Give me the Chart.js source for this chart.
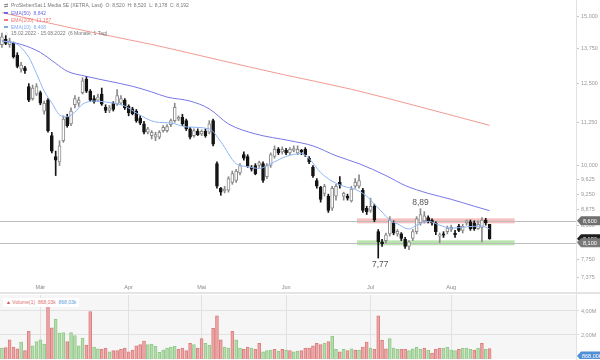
<!DOCTYPE html>
<html lang="de">
<head>
<meta charset="UTF-8">
<title>ProSiebenSat.1 Media SE - Chart</title>
<script src="https://cdn.jsdelivr.net/npm/chart.js@4.4.1/dist/chart.umd.min.js"></script>
<style>
  html, body { margin: 0; padding: 0; background: #fff; }
  body { width: 600px; height: 360px; position: relative; overflow: hidden;
         font-family: "Liberation Sans", Arial, sans-serif; }
  canvas { position: absolute; left: 0; }
  #priceChart { top: 0; }
  #volChart { top: 295px; }
  .sep { position: absolute; left: 0; top: 292px; width: 600px; height: 2px; background: #e4e4e4; }
  .vline { position: absolute; left: 576px; top: 0; width: 1px; height: 360px; background: #e2e2e2; }
  .lg { position: absolute; left: 4px; font-size: 5px; line-height: 7px; color: #777; white-space: nowrap; }
  .lg .dash { display: inline-block; width: 4px; height: 1.5px; vertical-align: middle; margin-right: 3px; }
  .lg .ic { display: inline-block; width: 5px; margin-right: 2px; color: #888; }
  .vlg { position: absolute; left: 3px; top: 298px; font-size: 5px; line-height: 9px; padding: 0 3px;
         background: #fff; color: #e07070; white-space: nowrap; }
</style>
</head>
<body>
<canvas id="priceChart" width="600" height="293"></canvas>
<div class="sep"></div>
<canvas id="volChart" width="600" height="64"></canvas>
<div class="vline"></div>

<div class="lg" style="top:1.5px"><span class="ic">&#8644;</span>ProSiebenSat.1 Media SE (XETRA, Last)&nbsp; O: 8,520&nbsp; H: 8,520&nbsp; L: 8,178&nbsp; C: 8,192</div>
<div class="lg" style="top:9.5px;color:#6b6be3"><span class="dash" style="background:#6b6be3"></span>EMA(50)&nbsp; 8,842</div>
<div class="lg" style="top:16.5px;color:#ee7b74"><span class="dash" style="background:#ee7b74"></span>EMA(200)&nbsp; 11,157</div>
<div class="lg" style="top:23.5px;color:#7eaaf0"><span class="dash" style="background:#7eaaf0"></span>EMA(10)&nbsp; 8,408</div>
<div class="lg" style="top:29.5px"><span class="ic">&#9788;</span>15.02.2022 - 15.08.2022&nbsp; (6 Monate, 1 Tag)</div>
<div class="vlg"><span style="color:#d65050">&#9650;</span> Volume(1)&nbsp; 868,03k&nbsp; <span style="color:#5b9bd8">868,03k</span></div>

<script>
// ---- data (EUR, XETRA daily, 15.02.2022 - 15.08.2022) ----
const opens = [
  13.90,14.10,13.90,13.95,13.50,13.00,13.05,12.40,12.00,12.15,
  12.20,11.60,11.95,10.85,10.25,10.10,10.70,11.40,11.20,11.80,
  11.85,12.20,12.65,12.25,12.00,11.95,12.15,11.72,11.62,11.85,
  11.82,11.85,11.95,11.75,11.67,11.60,11.38,11.20,10.95,10.85,
  10.80,10.80,11.00,11.00,11.18,11.30,11.35,11.40,11.30,11.05,
  10.85,10.98,10.90,10.98,10.95,11.30,10.05,9.40,9.33,9.35,
  9.55,9.60,9.80,10.30,10.25,9.95,10.00,10.00,10.05,9.70,
  10.00,10.25,10.45,10.38,10.42,10.35,10.42,10.35,10.42,10.45,
  10.20,9.95,9.60,9.42,9.27,9.20,8.90,9.20,9.55,9.20,
  9.20,9.08,9.45,9.45,9.35,8.90,8.85,8.95,8.35,8.12,
  8.15,8.30,8.55,8.30,8.30,8.18,8.02,8.20,8.35,8.55,
  8.60,8.68,8.62,8.55,8.25,8.30,8.35,8.40,8.32,8.48,
  8.38,8.55,8.58,8.55,8.42,8.45,8.62,8.52
];
const highs = [
  14.35,14.25,14.15,14.00,13.60,13.25,13.10,12.50,12.45,12.50,
  12.25,11.92,12.00,10.95,10.40,10.70,11.45,11.50,11.70,12.10,
  12.05,12.70,12.75,12.30,12.10,12.15,12.35,11.80,11.78,11.90,
  12.30,12.10,12.00,11.80,11.72,11.65,11.45,11.28,11.10,11.00,
  10.95,11.00,11.15,11.18,11.35,11.85,11.45,11.50,11.35,11.10,
  11.05,11.05,11.02,11.05,11.30,11.35,10.10,9.42,9.45,9.70,
  9.85,9.90,10.05,10.38,10.30,10.00,10.05,10.12,10.10,10.05,
  10.35,10.55,10.50,10.52,10.48,10.50,10.55,10.55,10.45,10.50,
  10.25,10.00,9.65,9.45,9.50,9.25,9.45,9.50,9.70,9.30,
  9.25,9.45,9.65,9.75,9.40,8.95,9.15,9.00,8.40,8.18,
  8.32,8.70,8.60,8.40,8.33,8.22,8.15,8.40,8.70,8.89,
  8.82,8.72,8.65,8.58,8.32,8.35,8.48,8.50,8.38,8.52,
  8.52,8.62,8.62,8.60,8.60,8.68,8.66,8.52
];
const lows = [
  13.80,13.90,13.80,13.40,13.05,12.90,12.85,11.90,11.95,12.10,
  11.80,11.50,10.95,10.35,9.73,10.00,10.65,11.10,11.15,11.70,
  11.75,12.15,12.20,11.90,11.85,11.90,11.78,11.55,11.55,11.60,
  11.78,11.80,11.65,11.45,11.48,11.25,11.18,10.90,10.90,10.75,
  10.70,10.75,10.95,10.95,11.12,11.25,11.30,11.15,11.00,10.75,
  10.80,10.85,10.85,10.80,10.90,10.55,9.40,9.22,9.28,9.30,
  9.50,9.55,9.75,10.15,9.95,9.85,9.75,9.95,9.55,9.65,
  9.95,10.20,10.30,10.32,10.30,10.30,10.38,10.30,10.30,10.25,
  10.05,9.68,9.40,9.05,9.20,8.80,8.85,9.10,9.40,9.10,
  9.10,9.05,9.40,9.40,8.80,8.75,8.80,8.58,7.77,8.02,
  8.10,8.25,8.28,8.25,8.15,7.98,7.95,8.15,8.30,8.50,
  8.55,8.55,8.50,8.28,8.10,8.22,8.30,8.35,8.22,8.35,
  8.32,8.50,8.38,8.38,8.40,8.12,8.50,8.178
];
const closes = [
  14.20,13.95,14.05,13.45,13.10,13.15,12.95,11.95,12.35,12.40,
  11.85,11.85,11.00,10.40,10.15,10.55,11.35,11.15,11.60,12.00,
  11.95,12.60,12.25,11.95,11.90,12.05,11.82,11.62,11.70,11.65,
  12.10,12.00,11.70,11.55,11.52,11.30,11.22,10.95,11.05,10.95,
  10.88,10.95,11.10,11.12,11.30,11.72,11.40,11.20,11.05,10.80,
  11.00,10.88,10.98,10.85,11.20,10.60,9.45,9.30,9.38,9.65,
  9.78,9.85,10.00,10.20,9.98,9.90,9.78,10.08,9.60,10.00,
  10.30,10.45,10.35,10.45,10.35,10.45,10.47,10.45,10.38,10.30,
  10.10,9.72,9.45,9.12,9.45,8.85,9.40,9.45,9.48,9.27,
  9.15,9.38,9.55,9.60,8.85,8.82,8.95,8.62,8.12,8.08,
  8.28,8.62,8.32,8.36,8.20,8.02,8.12,8.35,8.65,8.75,
  8.72,8.60,8.55,8.35,8.28,8.27,8.43,8.45,8.28,8.38,
  8.48,8.60,8.42,8.42,8.52,8.62,8.55,8.192
];

// EMA lines, read at sample days (index into the trading days)
const ema50Idx = [0,5,10,14,17,22,28,34,39,43,49,54,59,66,75,81,87,93,100,105,111,117,123,127];
const ema50Val = [14.05,13.91,13.61,13.21,12.93,12.75,12.58,12.41,12.22,12.05,11.92,11.67,11.20,10.90,10.70,10.55,10.27,10.05,9.73,9.47,9.27,9.12,8.95,8.842];
const ema200Idx = [0,19,33,39,56,73,91,109,127];
const ema200Val = [15.17,14.52,14.09,13.91,13.35,12.82,12.31,11.73,11.157];
const ema10Idx = [0,3,7,9,11,13,15,17,19,21,24,27,32,35,40,44,48,54,57,61,64,67,70,74,78,80,83,86,89,92,95,97,99,101,103,106,108,111,114,117,121,125,127];
const ema10Val = [14.02,13.98,13.43,12.85,12.25,11.86,11.48,11.42,11.57,11.82,11.92,11.89,11.76,11.54,11.26,11.23,11.11,11.05,10.67,10.05,9.97,9.92,10.05,10.25,10.33,10.19,9.81,9.58,9.45,9.37,9.20,9.00,8.81,8.62,8.53,8.41,8.50,8.59,8.50,8.43,8.46,8.48,8.408];

// volume in millions, with bar colour (G up / R down)
const volumes = [
  0.90,0.95,1.60,1.00,0.85,1.40,0.70,2.30,1.10,1.45,
  1.60,1.25,4.40,2.60,3.30,2.15,2.20,1.45,2.20,1.95,
  1.10,1.75,1.15,3.95,1.00,0.85,0.80,0.90,0.60,0.70,
  0.70,0.80,0.90,0.60,0.75,1.10,1.20,1.50,1.20,1.25,
  1.05,0.55,0.75,0.90,1.00,1.05,0.80,0.90,0.70,1.30,
  1.20,0.90,1.70,1.30,1.15,2.55,3.60,1.60,1.00,0.90,
  2.30,1.60,0.90,0.80,1.00,0.90,0.80,1.30,0.60,0.70,
  0.75,0.80,0.65,0.80,0.75,0.70,0.60,0.65,0.70,0.90,
  0.90,1.10,1.30,1.20,1.30,1.45,1.90,0.80,0.60,0.80,
  0.70,0.85,0.75,0.75,1.00,1.40,0.90,0.80,3.60,1.55,
  0.85,1.70,0.90,0.80,0.80,0.80,0.70,0.85,1.00,0.80,
  0.90,0.75,0.50,0.80,0.90,0.90,1.00,0.75,0.70,0.80,
  0.90,0.90,0.80,0.75,0.90,1.30,0.80,0.868
];
const volDir = [
  'G','R','R','R','R','G','R','R','G','G',
  'G','G','R','R','G','G','G','R','G','G',
  'G','G','R','R','G','G','R','R','G','R',
  'R','R','R','R','R','R','R','R','G','G',
  'G','G','G','G','G','G','R','R','R','R',
  'G','R','R','G','G','R','R','R','G','G',
  'R','G','G','R','R','G','R','R','G','G',
  'G','R','G','R','G','R','G','G','R','R',
  'R','R','R','R','G','R','G','G','R','G',
  'R','G','R','G','R','R','G','R','R','R',
  'R','G','G','G','R','R','G','G','G','G',
  'R','G','R','R','R','G','G','G','G','R',
  'G','G','G','R','G','R','G','R'
];

// support / resistance levels, noted high/low days and axis ticks
const levels = [8.60, 8.10];
const bandFrom = 93, bandTo = 133;
const noteHighIdx = 109, noteLowIdx = 98;
const priceTicks = [15, 13.75, 12.5, 11.25, 10, 9.625, 9.25, 8.875, 8.5, 8.125, 7.75, 7.375];
const volTicks = [2e6, 4e6];
const monthNames = ['Jan','Feb','Mär','Apr','Mai','Jun','Jul','Aug','Sep','Okt','Nov','Dez'];
const holidays = ['2022-04-15', '2022-04-18'];
const slotCount = 150;

// ---- trading-day categories ----
const categories = [];
for (let d = new Date(Date.UTC(2022, 1, 15)); categories.length < slotCount; d.setUTCDate(d.getUTCDate() + 1)) {
  const dow = d.getUTCDay();
  const iso = d.toISOString().slice(0, 10);
  if (dow === 0 || dow === 6 || holidays.includes(iso)) continue;
  categories.push(iso);
}
const monthStarts = [];
for (let i = 1; i < opens.length; i++) {
  if (categories[i].slice(5, 7) !== categories[i - 1].slice(5, 7)) monthStarts.push(i);
}

function sparse(idx, val) {
  const out = new Array(opens.length).fill(null);
  idx.forEach((k, j) => { out[k] = val[j]; });
  return out;
}
const de = (v, n) => v.toFixed(n).replace('.', ',');
const zeroPad = s => { s.paddingTop = 0; s.paddingBottom = 0; s.paddingLeft = 0; s.paddingRight = 0; };

const isUp = opens.map((o, i) => closes[i] >= o);

// ---- plugins ----
const levelPlugin = {
  id: 'levels',
  beforeDatasetsDraw(chart) {
    const { ctx, chartArea, scales: { x, y } } = chart;
    ctx.save();
    const x0 = x.getPixelForValue(bandFrom) - 2;
    const x1 = x.getPixelForValue(bandTo) + 2;
    const bandCols = ['rgba(236,140,140,0.55)', 'rgba(140,210,120,0.6)'];
    levels.forEach((v, i) => {
      const py = y.getPixelForValue(v);
      ctx.fillStyle = bandCols[i];
      ctx.fillRect(x0, py - 2.5, x1 - x0, 5);
      ctx.strokeStyle = '#bdbdbd';
      ctx.lineWidth = 1;
      ctx.beginPath();
      ctx.moveTo(chartArea.left, Math.round(py) + 0.5);
      ctx.lineTo(chartArea.right, Math.round(py) + 0.5);
      ctx.stroke();
    });
    ctx.restore();
  },
  afterDraw(chart) {
    const { ctx, chartArea, scales: { x, y } } = chart;
    ctx.save();
    // high / low notes
    ctx.fillStyle = '#555';
    ctx.font = '8.5px "Liberation Sans", Arial, sans-serif';
    ctx.textAlign = 'center';
    ctx.textBaseline = 'bottom';
    ctx.fillText(de(highs[noteHighIdx], 2), x.getPixelForValue(noteHighIdx), y.getPixelForValue(highs[noteHighIdx]) - 2);
    ctx.textBaseline = 'top';
    ctx.fillText(de(lows[noteLowIdx], 2), x.getPixelForValue(noteLowIdx) + 2, y.getPixelForValue(lows[noteLowIdx]) + 2);
    // right-hand price tags
    const tags = [
      { v: closes[closes.length - 1], c: '#1e1e1e' },
      { v: levels[0], c: '#6f6f6f' },
      { v: levels[1], c: '#7a7a7a' }
    ];
    ctx.font = '5.5px "Liberation Sans", Arial, sans-serif';
    ctx.textAlign = 'left';
    ctx.textBaseline = 'middle';
    tags.forEach(t => {
      const py = y.getPixelForValue(t.v);
      const l = chartArea.right + 1;
      ctx.fillStyle = t.c;
      ctx.beginPath();
      ctx.moveTo(l, py);
      ctx.lineTo(l + 4, py - 4.5);
      ctx.lineTo(600, py - 4.5);
      ctx.lineTo(600, py + 4.5);
      ctx.lineTo(l + 4, py + 4.5);
      ctx.closePath();
      ctx.fill();
      ctx.fillStyle = '#fff';
      ctx.fillText(de(t.v, 3), l + 6, py + 0.5);
    });
    ctx.restore();
  }
};

const volPlugin = {
  id: 'volbg',
  beforeDraw(chart) {
    const { ctx, chartArea: a } = chart;
    ctx.save();
    ctx.fillStyle = '#f6f6f6';
    ctx.fillRect(a.left, a.top, a.right - a.left, a.bottom - a.top);
    ctx.restore();
  },
  afterDraw(chart) {
    const { ctx, chartArea: a } = chart;
    ctx.save();
    const py = a.bottom - 3;
    const l = a.right + 1;
    ctx.fillStyle = '#4f90d6';
    ctx.beginPath();
    ctx.moveTo(l, py);
    ctx.lineTo(l + 4, py - 4.5);
    ctx.lineTo(600, py - 4.5);
    ctx.lineTo(600, py + 4.5);
    ctx.lineTo(l + 4, py + 4.5);
    ctx.closePath();
    ctx.fill();
    ctx.fillStyle = '#fff';
    ctx.font = '5.5px "Liberation Sans", Arial, sans-serif';
    ctx.textBaseline = 'middle';
    ctx.fillText(de(volumes[volumes.length - 1] * 1000, 2) + 'k', l + 5, py + 0.5);
    ctx.restore();
  }
};

const tickFont = { family: '"Liberation Sans", Arial, sans-serif', size: 5.5 };

// ---- price chart ----
new Chart(document.getElementById('priceChart'), {
  type: 'bar',
  data: {
    labels: categories,
    datasets: [
      { type: 'line', data: sparse(ema10Idx, ema10Val), borderColor: '#8db6f4', borderWidth: 1,
        pointRadius: 0, spanGaps: true, cubicInterpolationMode: 'monotone' },
      { type: 'line', data: sparse(ema50Idx, ema50Val), borderColor: '#7777e8', borderWidth: 1,
        pointRadius: 0, spanGaps: true, cubicInterpolationMode: 'monotone' },
      { type: 'line', data: sparse(ema200Idx, ema200Val), borderColor: '#f29a94', borderWidth: 1,
        pointRadius: 0, spanGaps: true, cubicInterpolationMode: 'monotone' },
      { type: 'bar', grouped: false, barThickness: 3,
        data: opens.map((o, i) => [o, closes[i]]),
        backgroundColor: isUp.map(u => u ? '#ffffff' : '#151515'),
        borderColor: isUp.map(u => u ? '#8a8a8a' : '#151515'),
        borderWidth: 1, borderSkipped: false },
      { type: 'bar', grouped: false, barThickness: 1,
        data: lows.map((l, i) => [l, highs[i]]),
        backgroundColor: isUp.map(u => u ? '#8a8a8a' : '#151515') }
    ]
  },
  options: {
    responsive: false,
    animation: false,
    events: [],
    layout: { padding: 0 },
    plugins: { legend: { display: false }, tooltip: { enabled: false } },
    scales: {
      x: {
        type: 'category',
        offset: true,
        grid: { display: false, drawTicks: false, tickLength: 0 },
        border: { display: false },
        ticks: {
          autoSkip: false, maxRotation: 0, padding: 3, color: '#888', font: tickFont,
          callback: (v) => monthNames[parseInt(categories[v].slice(5, 7), 10) - 1]
        },
        afterBuildTicks: s => { s.ticks = monthStarts.map(i => ({ value: i })); },
        afterFit: s => { s.height = 12; zeroPad(s); }
      },
      y: {
        type: 'logarithmic',
        position: 'right',
        min: 7.349,
        max: 15.70,
        grid: { display: true, drawOnChartArea: false, drawTicks: true, tickLength: 3, color: '#c4c4c4' },
        border: { display: false },
        ticks: { padding: 2, color: '#999', font: tickFont, callback: v => de(v, 3) },
        afterBuildTicks: s => { s.ticks = priceTicks.map(v => ({ value: v })); },
        afterFit: s => { s.width = 24; zeroPad(s); }
      }
    }
  },
  plugins: [levelPlugin]
});

// ---- volume chart ----
new Chart(document.getElementById('volChart'), {
  type: 'bar',
  data: {
    labels: categories,
    datasets: [{
      data: volumes.map(v => v * 1e6),
      barThickness: 3,
      backgroundColor: volDir.map(d => d === 'G' ? '#b6dcae' : '#eba5a5'),
      borderColor: volDir.map(d => d === 'G' ? '#92c889' : '#dc7f7f'),
      borderWidth: 1,
      borderSkipped: 'bottom'
    }]
  },
  options: {
    responsive: false,
    animation: false,
    events: [],
    layout: { padding: 0 },
    plugins: { legend: { display: false }, tooltip: { enabled: false } },
    scales: {
      x: {
        type: 'category',
        offset: true,
        grid: { display: true, offset: false, drawTicks: false, color: '#e2e2e2' },
        border: { display: false },
        ticks: { display: false, autoSkip: false },
        afterBuildTicks: s => { s.ticks = monthStarts.map(i => ({ value: i })); },
        afterFit: s => { s.height = 0; zeroPad(s); }
      },
      y: {
        position: 'right',
        min: 0,
        max: 5.333e6,
        grid: { display: true, drawTicks: true, tickLength: 3, color: '#e2e2e2' },
        border: { display: false },
        ticks: { padding: 2, color: '#999', font: tickFont, callback: v => de(v / 1e6, 2) + 'M' },
        afterBuildTicks: s => { s.ticks = volTicks.map(v => ({ value: v })); },
        afterFit: s => { s.width = 24; zeroPad(s); }
      }
    }
  },
  plugins: [volPlugin]
});
</script>
</body>
</html>
